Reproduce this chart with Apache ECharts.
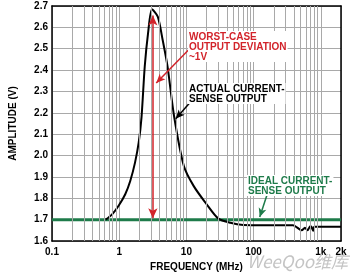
<!DOCTYPE html>
<html>
<head>
<meta charset="utf-8">
<script src="https://cdn.jsdelivr.net/npm/echarts@6/dist/echarts.min.js"></script>
<style>
  html, body { margin: 0; padding: 0; background: #fff; }
  #chart { width: 350px; height: 277px; }
</style>
</head>
<body>
<div id="chart"></div>
<script>
// actual current-sense output, frequency in MHz
const freq = [0.63, 0.79, 0.98, 1.23, 1.46, 1.72, 1.95, 2.15, 2.4, 2.69, 3.07, 3.75, 4.43, 5.24, 6.56, 9.17, 12.8, 20, 29.6, 45, 70, 150, 385, 521, 581, 636, 695, 723, 773, 800, 1200, 2000];
const amplitude = [1.700, 1.726, 1.765, 1.819, 1.881, 1.967, 2.06, 2.18, 2.417, 2.573, 2.685, 2.650, 2.542, 2.417, 2.184, 1.951, 1.858, 1.772, 1.706, 1.685, 1.675, 1.674, 1.674, 1.650, 1.662, 1.650, 1.669, 1.667, 1.648, 1.667, 1.667, 1.667];
const idealLevel = 1.7;
const xRange = [0.1, 2000];
const yTicks = [1.6, 1.7, 1.8, 1.9, 2.0, 2.1, 2.2, 2.3, 2.4, 2.5, 2.6, 2.7];
const decades = [0.1, 1, 10, 100];
const minorSteps = [2, 3, 4, 5, 6, 7, 8, 9];

const red = '#d2232a';
const green = '#1e7b4a';
const gridGray = '#a9a9a9';
const font = 'Liberation Sans, Arial, sans-serif';

const minorLines = [];
decades.forEach((d) => minorSteps.forEach((k) => minorLines.push({ xAxis: d * k })));

const chart = echarts.init(document.getElementById('chart'));

const option = {
  animation: false,
  backgroundColor: '#fff',
  grid: { left: 45, right: 9, top: 6, bottom: 35 },
  xAxis: [
    {
      type: 'log',
      logBase: 10,
      min: xRange[0],
      max: xRange[1],
      interval: 1,
      name: 'FREQUENCY (MHz)',
      nameLocation: 'middle',
      nameGap: 21,
      nameTextStyle: { fontFamily: font, fontWeight: 'bold', fontSize: 10, color: '#000' },
      axisLine: { lineStyle: { color: '#000', width: 1.5 } },
      axisTick: { show: false },
      axisLabel: {
        margin: 6,
        fontFamily: font, fontWeight: 'bold', fontSize: 10, color: '#000',
        showMaxLabel: true,
        formatter: (v) => {
          if (v < 1) return '0.1';
          const r = Math.round(v);
          return r >= 1000 ? r / 1000 + 'k' : String(r);
        },
      },
      splitLine: { show: true, lineStyle: { color: gridGray, width: 1 } },
    },
    {
      type: 'log', logBase: 10, min: xRange[0], max: xRange[1], position: 'top',
      axisLine: { lineStyle: { color: '#000', width: 1.5 } },
      axisTick: { show: false }, axisLabel: { show: false }, splitLine: { show: false },
    },
  ],
  yAxis: [
    {
      type: 'value',
      min: yTicks[0],
      max: yTicks[yTicks.length - 1],
      interval: 0.1,
      name: 'AMPLITUDE (V)',
      nameLocation: 'middle',
      nameGap: 34,
      nameTextStyle: { fontFamily: font, fontWeight: 'bold', fontSize: 10, color: '#000' },
      axisLine: { show: true, lineStyle: { color: '#000', width: 1.5 } },
      axisTick: { show: false },
      axisLabel: {
        margin: 4,
        fontFamily: font, fontWeight: 'bold', fontSize: 10, color: '#000',
        formatter: (v) => v.toFixed(1),
      },
      splitLine: { show: true, lineStyle: { color: gridGray, width: 1 } },
    },
    {
      type: 'value', min: yTicks[0], max: yTicks[yTicks.length - 1], position: 'right',
      axisLine: { show: true, lineStyle: { color: '#000', width: 1.5 } },
      axisTick: { show: false }, axisLabel: { show: false }, splitLine: { show: false },
    },
  ],
  series: [
    {
      // minor log gridlines
      type: 'line',
      data: [],
      z: 1,
      markLine: {
        silent: true,
        symbol: ['none', 'none'],
        label: { show: false },
        lineStyle: { color: gridGray, width: 1, type: 'solid' },
        data: minorLines,
        animation: false,
      },
    },
    {
      name: 'ideal',
      type: 'line',
      z: 3,
      symbol: 'none',
      data: [[xRange[0], idealLevel], [xRange[1], idealLevel]],
      lineStyle: { color: green, width: 3 },
    },
    {
      name: 'actual',
      type: 'line',
      z: 4,
      symbol: 'none',
      smooth: 0.25,
      data: freq.map((f, i) => [f, amplitude[i]]),
      lineStyle: { color: '#000', width: 2 },
      markLine: {
        silent: true,
        animation: false,
        label: { show: false },
        data: [
          [
            { coord: [3.17, 1.706], symbol: 'arrow', symbolSize: [7, 10], lineStyle: { color: red, width: 1.5, type: 'solid' } },
            { coord: [3.17, 2.655], symbol: 'arrow', symbolSize: [7, 10] },
          ],
          [
            { coord: [11.47, 2.503], symbol: 'none', lineStyle: { color: red, width: 1.5, type: 'solid' } },
            { coord: [3.56, 2.34], symbol: 'arrow', symbolSize: [6, 9] },
          ],
          [
            { coord: [12.4, 2.262], symbol: 'none', lineStyle: { color: '#000', width: 1.5, type: 'solid' } },
            { coord: [6.94, 2.172], symbol: 'arrow', symbolSize: [6, 9] },
          ],
          [
            { coord: [157.8, 1.814], symbol: 'none', lineStyle: { color: green, width: 1.5, type: 'solid' } },
            { coord: [123.5, 1.712], symbol: 'arrow', symbolSize: [6, 9] },
          ],
        ],
      },
    },
  ],
  graphic: [
    {
      type: 'text', left: 188, top: 31, z: 10,
      style: {
        text: 'WORST-CASE\nOUTPUT DEVIATION\n~1V',
        font: 'bold 10px ' + font, lineHeight: 10, fill: red,
        backgroundColor: '#fff', padding: [1, 1, 0, 1],
      },
    },
    {
      type: 'text', left: 188, top: 83, z: 10,
      style: {
        text: 'ACTUAL CURRENT-\nSENSE OUTPUT',
        font: 'bold 10px ' + font, lineHeight: 10, fill: '#000',
        backgroundColor: '#fff', padding: [1, 1, 0, 1],
      },
    },
    {
      type: 'text', left: 247, top: 175, z: 10,
      style: {
        text: 'IDEAL CURRENT-\nSENSE OUTPUT',
        font: 'bold 10px ' + font, lineHeight: 10, fill: green,
        backgroundColor: '#fff', padding: [1, 1, 0, 1],
      },
    },
    {
      type: 'text', left: 247, top: 253, z: 10,
      style: {
        text: 'WeeQoo维库',
        font: 'italic 17px "Noto Sans CJK SC", sans-serif', fill: '#c4c4c4',
      },
    },
  ],
};

chart.setOption(option);
</script>
</body>
</html>
